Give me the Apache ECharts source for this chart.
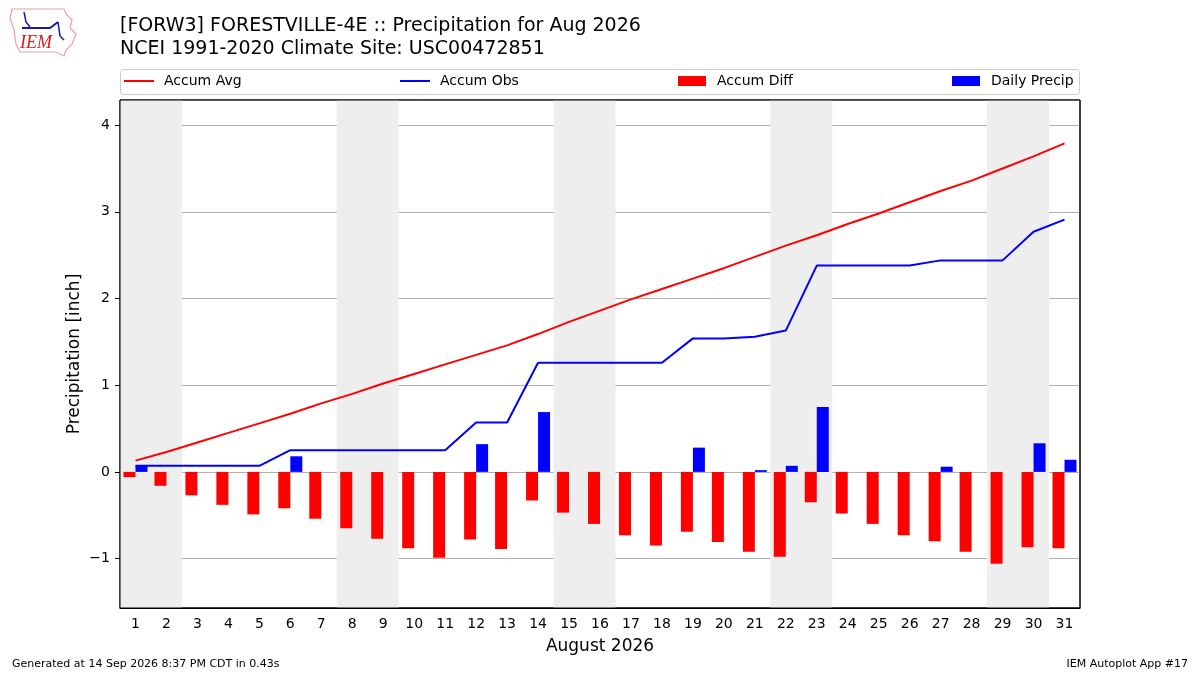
<!DOCTYPE html>
<html>
<head>
<meta charset="utf-8">
<script src="https://cdn.jsdelivr.net/npm/echarts@6/dist/echarts.min.js"></script>
<style>
html,body{margin:0;padding:0;background:#fff;}
#main{width:1200px;height:675px;}
</style>
</head>
<body>
<div id="main"></div>
<script>
// day labels along the bottom
var dayLabels = ['1','2','3','4','5','6','7','8','9','10','11','12','13','14','15','16',
  '17','18','19','20','21','22','23','24','25','26','27','28','29','30','31'];
// accumulated climatology (inch)
var accumAvg = [0.13,0.23,0.34,0.45,0.56,0.67,0.79,0.90,1.02,1.13,1.24,1.35,1.46,1.59,1.73,1.86,
  1.99,2.11,2.23,2.35,2.48,2.61,2.73,2.86,2.98,3.11,3.24,3.36,3.50,3.64,3.79];
// accumulated observed
var accumObs = [0.07,0.07,0.07,0.07,0.07,0.25,0.25,0.25,0.25,0.25,0.25,0.57,0.57,1.26,1.26,1.26,
  1.26,1.26,1.54,1.54,1.56,1.63,2.38,2.38,2.38,2.38,2.44,2.44,2.44,2.77,2.91];
// obs - avg
var accumDiff = [-0.06,-0.16,-0.27,-0.38,-0.49,-0.42,-0.54,-0.65,-0.77,-0.88,-0.99,-0.78,-0.89,-0.33,-0.47,-0.60,
  -0.73,-0.85,-0.69,-0.81,-0.92,-0.98,-0.35,-0.48,-0.60,-0.73,-0.80,-0.92,-1.06,-0.87,-0.88];
// daily precip
var dailyPrecip = [0.07,0,0,0,0,0.18,0,0,0,0,0,0.32,0,0.69,0,0,
  0,0,0.28,0,0.02,0.07,0.75,0,0,0,0.06,0,0,0.33,0.14];
// first day of each weekend (Sat)
var weekendStarts = [1, 8, 15, 22, 29];

var FONT = 'DejaVu Sans';
var myChart = echarts.init(document.getElementById('main'));

var weekendAreas = [];
for (var i = 0; i < weekendStarts.length; i++) {
  weekendAreas.push([{xAxis: weekendStarts[i] - 0.5}, {xAxis: weekendStarts[i] + 1.5}]);
}

// one legend per entry so they sit where matplotlib put them
function legendAt(name, left, isLine) {
  return {
    data: [{name: name, icon: 'rect'}],
    left: left,
    top: 74,
    padding: 0,
    itemWidth: isLine ? 30 : 28,
    itemHeight: isLine ? 2 : 10,
    selectedMode: false,
    textStyle: {fontFamily: FONT, fontSize: 14, color: '#000', padding: [0, 0, 0, isLine ? 5 : 6]}
  };
}

var option = {
  animation: false,
  backgroundColor: '#fff',
  title: {
    text: '[FORW3] FORESTVILLE-4E :: Precipitation for Aug 2026\nNCEI 1991-2020 Climate Site: USC00472851',
    left: 115,
    top: 10,
    textStyle: {fontFamily: FONT, fontSize: 19, fontWeight: 'normal', color: '#000', lineHeight: 23}
  },
  legend: [
    legendAt('Accum Avg', 124, true),
    legendAt('Accum Obs', 400, true),
    legendAt('Accum Diff', 678, false),
    legendAt('Daily Precip', 952, false)
  ],
  grid: {
    left: 120, right: 120, top: 100, bottom: 67,
    show: true, borderColor: '#000', borderWidth: 1, backgroundColor: 'transparent'
  },
  xAxis: [{
    type: 'category',
    data: dayLabels,
    boundaryGap: true,
    name: 'August 2026',
    nameLocation: 'middle',
    nameGap: 30,
    nameTextStyle: {fontFamily: FONT, fontSize: 17, color: '#000'},
    axisLine: {onZero: false, lineStyle: {color: '#000', width: 1}},
    axisTick: {alignWithLabel: true, length: 5, lineStyle: {color: '#000'}},
    axisLabel: {fontFamily: FONT, fontSize: 14, color: '#000', margin: 9, interval: 0},
    splitLine: {show: false}
  }, {
    type: 'value',
    min: 0.5,
    max: 31.5,
    show: false
  }],
  yAxis: {
    type: 'value',
    min: -1.57,
    max: 4.29,
    name: 'Precipitation [inch]',
    nameLocation: 'middle',
    nameGap: 37,
    nameMoveOverlap: false,
    nameTextStyle: {fontFamily: FONT, fontSize: 17, color: '#000'},
    axisLine: {show: true, lineStyle: {color: '#000', width: 1}},
    axisTick: {show: true, length: 5, lineStyle: {color: '#000'}},
    axisLabel: {
      fontFamily: FONT, fontSize: 14, color: '#000', margin: 10,
      showMinLabel: false, showMaxLabel: false,
      formatter: function (v) { return String(v).replace('-', '\u2212'); }
    },
    splitLine: {show: true, lineStyle: {color: '#b0b0b0', width: 1}}
  },
  series: [
    {
      name: 'weekend',
      type: 'line',
      xAxisIndex: 1,
      data: [],
      z: -1,
      silent: true,
      markArea: {silent: true, itemStyle: {color: '#eeeeee'}, data: weekendAreas}
    },
    {
      name: 'Accum Avg',
      type: 'line',
      data: accumAvg,
      symbol: 'none',
      color: '#ff0000',
      lineStyle: {color: '#ff0000', width: 2},
      z: 5
    },
    {
      name: 'Accum Obs',
      type: 'line',
      data: accumObs,
      symbol: 'none',
      color: '#0000ff',
      lineStyle: {color: '#0000ff', width: 2},
      z: 5
    },
    {
      name: 'Accum Diff',
      type: 'bar',
      data: accumDiff,
      barWidth: 12,
      barGap: '0%',
      itemStyle: {color: '#ff0000'}
    },
    {
      name: 'Daily Precip',
      type: 'bar',
      data: dailyPrecip,
      barWidth: 12,
      barGap: '0%',
      itemStyle: {color: '#0000ff'}
    }
  ],
  graphic: [
    // legend frame
    {type: 'rect', shape: {x: 120.5, y: 69.5, width: 959, height: 25, r: 3},
     style: {fill: 'none', stroke: '#cccccc', lineWidth: 1}, z: 0},
    // plot frame on top of the shading
    {type: 'rect', shape: {x: 120, y: 100, width: 960, height: 508},
     style: {fill: 'none', stroke: '#000', lineWidth: 1}, z: 100, silent: true},
    // rough IEM logo
    {type: 'polyline', shape: {points: [[12,9],[64,9],[66,14],[72,20],[70,28],[76,34],[72,44],[66,50],[64,56],[56,52],[20,52],[16,44],[14,30],[10,18],[12,9]]},
     style: {fill: 'none', stroke: '#e8a0a0', lineWidth: 1.2}},
    {type: 'polyline', shape: {points: [[22,28],[50,28],[58,22]]},
     style: {fill: 'none', stroke: '#1a1aa0', lineWidth: 2}},
    {type: 'polyline', shape: {points: [[24,12],[26,22],[30,27]]},
     style: {fill: 'none', stroke: '#1a1aa0', lineWidth: 1.5}},
    {type: 'polyline', shape: {points: [[58,22],[60,36],[64,40]]},
     style: {fill: 'none', stroke: '#1a1aa0', lineWidth: 1.5}},
    {type: 'text', left: 20, top: 34,
     style: {text: 'IEM', fill: '#d02020', font: 'italic 18px "Liberation Serif"'}},
    // footer
    {type: 'text', left: 12, top: 659,
     style: {text: 'Generated at 14 Sep 2026 8:37 PM CDT in 0.43s', fill: '#000', font: '11px "DejaVu Sans"'}},
    {type: 'text', right: 12, top: 659,
     style: {text: 'IEM Autoplot App #17', fill: '#000', font: '11px "DejaVu Sans"'}}
  ]
};

myChart.setOption(option);
window.addEventListener('resize', function () { myChart.resize(); });
</script>
</body>
</html>
